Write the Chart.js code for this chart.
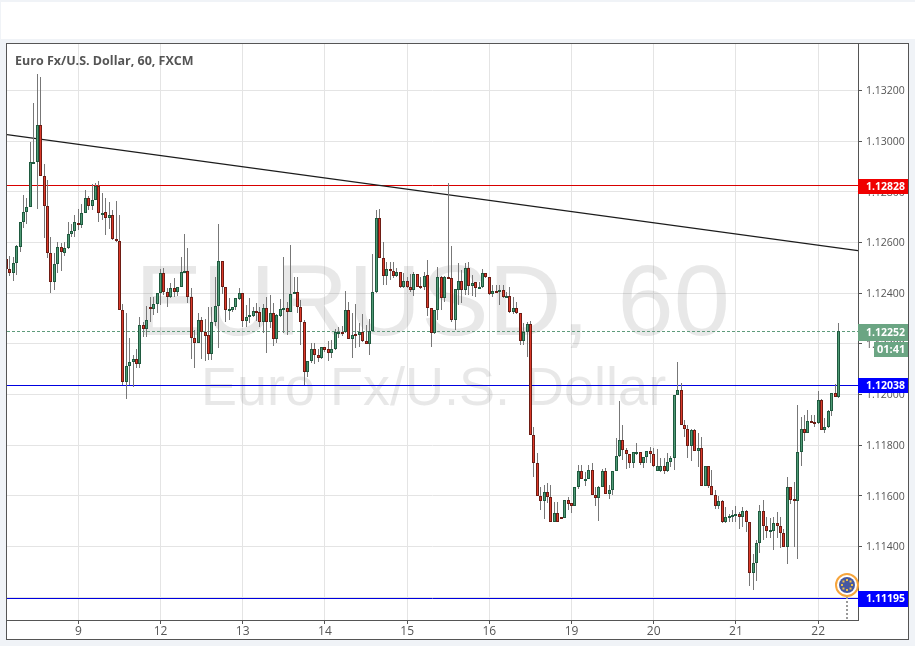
<!DOCTYPE html>
<html>
<head>
<meta charset="utf-8">
<title>EURUSD 60</title>
<script src="https://cdn.jsdelivr.net/npm/chart.js@4/dist/chart.umd.js"></script>
<style>
    html, body { margin: 0; padding: 0; background: #f0f3f7; width: 915px; height: 646px; overflow: hidden; }
    #topStrip { position: absolute; left: 1px; top: 2px; width: 914px; height: 37px; background: #fff; }
    #panel { position: absolute; left: 6px; top: 43px; width: 901px; height: 595px; background: #fff; border: 1px solid #555; }
    canvas { position: absolute; left: 0; top: 0; }
</style>
</head>
<body>
<div id="topStrip"></div>
<div id="panel"></div>
<canvas id="chart" width="915" height="646"></canvas>
<script>
// hourly candles
const opens = [
    1.12533,1.12494,1.12478,1.12521,1.12583,1.12679,1.12719,1.12742,1.12916,1.12916,1.13062,1.12863,
    1.12746,1.12557,1.12445,1.12516,1.12584,1.12559,1.12580,1.12632,1.12644,1.12678,1.12670,1.12715,
    1.12774,1.12746,1.12766,1.12825,1.12713,1.12719,1.12695,1.12707,1.12612,1.12607,1.12332,1.12050,
    1.12111,1.12129,1.12142,1.12122,1.12276,1.12257,1.12345,1.12339,1.12357,1.12399,1.12478,1.12406,
    1.12383,1.12419,1.12406,1.12423,1.12481,1.12486,1.12386,1.12225,1.12202,1.12293,1.12247,1.12233,
    1.12158,1.12285,1.12348,1.12526,1.12423,1.12332,1.12333,1.12344,1.12378,1.12399,1.12289,1.12304,
    1.12311,1.12328,1.12327,1.12287,1.12340,1.12287,1.12320,1.12221,1.12311,1.12336,1.12340,1.12324,
    1.12395,1.12403,1.12344,1.12285,1.12087,1.12131,1.12178,1.12154,1.12145,1.12186,1.12178,1.12165,
    1.12179,1.12244,1.12246,1.12245,1.12332,1.12218,1.12239,1.12235,1.12245,1.12212,1.12200,1.12252,
    1.12403,1.12695,1.12537,1.12469,1.12494,1.12489,1.12466,1.12482,1.12423,1.12447,1.12423,1.12411,
    1.12474,1.12427,1.12423,1.12470,1.12340,1.12241,1.12332,1.12462,1.12379,1.12462,1.12458,1.12295,
    1.12414,1.12447,1.12414,1.12498,1.12429,1.12443,1.12419,1.12423,1.12478,1.12462,1.12395,1.12407,
    1.12403,1.12411,1.12383,1.12387,1.12327,1.12340,1.12320,1.12212,1.12245,1.12277,1.11842,1.11728,
    1.11600,1.11578,1.11617,1.11594,1.11495,1.11531,1.11516,1.11514,1.11582,1.11570,1.11561,1.11633,
    1.11697,1.11664,1.11668,1.11701,1.11602,1.11590,1.11633,1.11697,1.11606,1.11622,1.11697,1.11756,
    1.11819,1.11779,1.11764,1.11728,1.11770,1.11772,1.11728,1.11752,1.11776,1.11764,1.11697,1.11697,
    1.11716,1.11697,1.11732,1.11748,1.12000,1.12016,1.11878,1.11862,1.11795,1.11858,1.11776,1.11787,
    1.11637,1.11716,1.11637,1.11602,1.11558,1.11578,1.11498,1.11514,1.11520,1.11522,1.11527,1.11518,
    1.11539,1.11495,1.11296,1.11333,1.11412,1.11539,1.11479,1.11458,1.11462,1.11491,1.11479,1.11452,
    1.11399,1.11633,1.11586,1.11578,1.11772,1.11862,1.11847,1.11895,1.11893,1.11886,1.11977,1.11858,
    1.11870,1.11933,1.12005,1.11991
];
const highs = [
    1.12537,1.12546,1.12544,1.12590,1.12679,1.12787,1.12774,1.12998,1.13149,1.13265,1.13252,1.12908,
    1.12846,1.12623,1.12559,1.12603,1.12599,1.12603,1.12679,1.12675,1.12708,1.12734,1.12751,1.12807,
    1.12783,1.12829,1.12836,1.12841,1.12794,1.12774,1.12758,1.12730,1.12763,1.12708,1.12359,1.12320,
    1.12225,1.12155,1.12178,1.12304,1.12287,1.12349,1.12386,1.12386,1.12399,1.12495,1.12498,1.12419,
    1.12439,1.12458,1.12423,1.12544,1.12633,1.12577,1.12419,1.12254,1.12320,1.12304,1.12300,1.12347,
    1.12347,1.12462,1.12673,1.12526,1.12423,1.12379,1.12347,1.12382,1.12419,1.12399,1.12353,1.12382,
    1.12344,1.12360,1.12347,1.12357,1.12386,1.12393,1.12360,1.12318,1.12377,1.12544,1.12366,1.12590,
    1.12462,1.12462,1.12373,1.12294,1.12131,1.12202,1.12204,1.12178,1.12186,1.12189,1.12212,1.12215,
    1.12260,1.12265,1.12270,1.12408,1.12366,1.12320,1.12356,1.12281,1.12316,1.12274,1.12300,1.12554,
    1.12728,1.12731,1.12603,1.12524,1.12524,1.12524,1.12498,1.12485,1.12478,1.12462,1.12475,1.12485,
    1.12474,1.12465,1.12485,1.12531,1.12340,1.12332,1.12504,1.12468,1.12468,1.12833,1.12586,1.12415,
    1.12519,1.12491,1.12518,1.12522,1.12471,1.12445,1.12445,1.12495,1.12481,1.12465,1.12432,1.12432,
    1.12432,1.12432,1.12406,1.12423,1.12386,1.12366,1.12320,1.12283,1.12287,1.12291,1.11870,1.11770,
    1.11636,1.11642,1.11649,1.11642,1.11577,1.11577,1.11516,1.11583,1.11596,1.11570,1.11633,1.11722,
    1.11722,1.11694,1.11722,1.11728,1.11633,1.11639,1.11704,1.11708,1.11643,1.11697,1.11827,1.11976,
    1.11880,1.11787,1.11765,1.11774,1.11807,1.11773,1.11754,1.11776,1.11794,1.11787,1.11785,1.11748,
    1.11748,1.11768,1.11757,1.12000,1.12127,1.12044,1.11899,1.11880,1.11865,1.11865,1.11847,1.11831,
    1.11719,1.11716,1.11702,1.11623,1.11599,1.11583,1.11557,1.11528,1.11544,1.11560,1.11537,1.11557,
    1.11544,1.11498,1.11370,1.11425,1.11564,1.11583,1.11518,1.11511,1.11518,1.11536,1.11518,1.11471,
    1.11673,1.11636,1.11653,1.11958,1.11912,1.11919,1.11939,1.11919,1.11919,1.12014,1.11981,1.11906,
    1.11939,1.12005,1.12041,1.12283
];
const lows = [
    1.12491,1.12467,1.12449,1.12471,1.12563,1.12658,1.12675,1.12742,1.12912,1.12734,1.12863,1.12619,
    1.12537,1.12401,1.12412,1.12478,1.12488,1.12546,1.12576,1.12623,1.12623,1.12649,1.12658,1.12715,
    1.12728,1.12728,1.12766,1.12682,1.12688,1.12629,1.12655,1.12609,1.12603,1.12332,1.12037,1.11984,
    1.12037,1.12028,1.12103,1.12103,1.12228,1.12228,1.12287,1.12314,1.12320,1.12353,1.12393,1.12347,
    1.12379,1.12386,1.12389,1.12423,1.12481,1.12360,1.12139,1.12103,1.12202,1.12141,1.12132,1.12136,
    1.12136,1.12272,1.12182,1.12397,1.12285,1.12294,1.12327,1.12333,1.12373,1.12268,1.12265,1.12281,
    1.12304,1.12289,1.12268,1.12244,1.12165,1.12261,1.12193,1.12202,1.12307,1.12241,1.12235,1.12324,
    1.12395,1.12320,1.12195,1.12037,1.12070,1.12125,1.12120,1.12130,1.12139,1.12169,1.12133,1.12143,
    1.12175,1.12222,1.12232,1.12241,1.12218,1.12143,1.12182,1.12186,1.12208,1.12200,1.12156,1.12252,
    1.12402,1.12537,1.12432,1.12432,1.12452,1.12458,1.12462,1.12419,1.12419,1.12419,1.12406,1.12389,
    1.12423,1.12415,1.12412,1.12311,1.12189,1.12239,1.12296,1.12333,1.12366,1.12458,1.12287,1.12254,
    1.12353,1.12360,1.12393,1.12393,1.12389,1.12386,1.12419,1.12422,1.12458,1.12393,1.12386,1.12399,
    1.12353,1.12379,1.12382,1.12320,1.12316,1.12318,1.12195,1.12195,1.12149,1.11842,1.11675,1.11600,
    1.11544,1.11507,1.11570,1.11495,1.11495,1.11495,1.11514,1.11514,1.11544,1.11533,1.11561,1.11628,
    1.11665,1.11639,1.11665,1.11602,1.11561,1.11502,1.11633,1.11606,1.11586,1.11603,1.11697,1.11754,
    1.11741,1.11704,1.11708,1.11708,1.11761,1.11722,1.11708,1.11728,1.11728,1.11715,1.11697,1.11695,
    1.11685,1.11695,1.11712,1.11702,1.12000,1.11878,1.11831,1.11751,1.11739,1.11776,1.11712,1.11637,
    1.11637,1.11629,1.11602,1.11550,1.11550,1.11494,1.11494,1.11495,1.11495,1.11498,1.11469,1.11478,
    1.11456,1.11245,1.11228,1.11265,1.11375,1.11425,1.11432,1.11432,1.11386,1.11432,1.11395,1.11399,
    1.11332,1.11568,1.11399,1.11352,1.11718,1.11818,1.11847,1.11891,1.11870,1.11883,1.11858,1.11849,
    1.11866,1.11915,1.11989,1.11985
];
const closes = [
    1.12494,1.12478,1.12521,1.12586,1.12679,1.12719,1.12742,1.12916,1.12918,1.13062,1.12863,1.12746,
    1.12557,1.12445,1.12517,1.12584,1.12561,1.12580,1.12632,1.12644,1.12679,1.12670,1.12715,1.12774,
    1.12746,1.12766,1.12825,1.12715,1.12717,1.12695,1.12707,1.12612,1.12607,1.12332,1.12050,1.12111,
    1.12129,1.12142,1.12122,1.12276,1.12257,1.12296,1.12339,1.12357,1.12399,1.12478,1.12406,1.12383,
    1.12419,1.12406,1.12423,1.12482,1.12486,1.12386,1.12225,1.12202,1.12293,1.12247,1.12232,1.12158,
    1.12285,1.12348,1.12526,1.12423,1.12332,1.12337,1.12344,1.12379,1.12399,1.12289,1.12306,1.12312,
    1.12328,1.12325,1.12287,1.12340,1.12287,1.12320,1.12221,1.12312,1.12336,1.12340,1.12324,1.12395,
    1.12403,1.12344,1.12285,1.12087,1.12131,1.12178,1.12154,1.12145,1.12186,1.12175,1.12165,1.12179,
    1.12246,1.12248,1.12240,1.12332,1.12218,1.12236,1.12235,1.12245,1.12212,1.12200,1.12252,1.12403,
    1.12695,1.12537,1.12469,1.12494,1.12489,1.12466,1.12482,1.12423,1.12447,1.12423,1.12411,1.12474,
    1.12426,1.12423,1.12469,1.12340,1.12241,1.12332,1.12462,1.12379,1.12462,1.12458,1.12295,1.12415,
    1.12447,1.12414,1.12498,1.12429,1.12441,1.12419,1.12423,1.12478,1.12462,1.12395,1.12407,1.12403,
    1.12411,1.12383,1.12387,1.12327,1.12340,1.12320,1.12212,1.12245,1.12277,1.11842,1.11728,1.11600,
    1.11578,1.11617,1.11594,1.11495,1.11531,1.11495,1.11514,1.11582,1.11567,1.11561,1.11633,1.11697,
    1.11665,1.11668,1.11701,1.11602,1.11590,1.11633,1.11697,1.11606,1.11622,1.11697,1.11756,1.11819,
    1.11779,1.11764,1.11728,1.11772,1.11773,1.11728,1.11752,1.11776,1.11764,1.11716,1.11716,1.11716,
    1.11697,1.11732,1.11748,1.12000,1.12016,1.11878,1.11862,1.11795,1.11858,1.11776,1.11787,1.11637,
    1.11716,1.11637,1.11602,1.11558,1.11578,1.11498,1.11515,1.11522,1.11524,1.11527,1.11518,1.11539,
    1.11495,1.11296,1.11333,1.11412,1.11539,1.11479,1.11460,1.11464,1.11491,1.11479,1.11452,1.11399,
    1.11633,1.11585,1.11578,1.11772,1.11862,1.11847,1.11894,1.11891,1.11885,1.11977,1.11858,1.11870,
    1.11933,1.12005,1.11991,1.12252
];

// axes
const priceTicks = [1.112, 1.114, 1.116, 1.118, 1.12, 1.122, 1.124, 1.126, 1.128, 1.13, 1.132];
const dayTickIndex = [21, 45, 69, 93, 117, 141, 165, 189, 213, 237];
const dayLabels = ['9', '12', '13', '14', '15', '16', '19', '20', '21', '22'];
const xMin = 0.175, xMax = 248.64;

// drawn lines and price tags
const trendLine = [1.13026, 1.12568];
const resistance = 1.12828;
const support = 1.12038;
const lowerSupport = 1.11195;
const lastPrice = 1.12252;

const font = '"Open Sans", sans-serif';

function flatLine(price, color, dash) {
    return {
        type: 'line',
        label: 'level',
        data: [{ x: xMin, y: price }, { x: xMax, y: price }],
        borderColor: color,
        borderWidth: 1,
        borderDash: dash || [],
        pointRadius: 0,
        order: 3
    };
}

function priceTag(ctx, yPos, height, text, color, left) {
    const top = Math.round(yPos - height / 2);
    ctx.fillStyle = color;
    ctx.fillRect(left, top, 908 - left, height);
    ctx.fillStyle = '#fff';
    ctx.font = 'bold 10.5px ' + font;
    ctx.textAlign = 'left';
    ctx.textBaseline = 'middle';
    ctx.fillText(text, left + 8, top + height / 2 + 0.5);
}

// keep candles and level lines on whole pixels, the way the original draws them
const snapMarks = {
    id: 'snapMarks',
    afterDatasetsUpdate(chart) {
        chart.data.datasets.forEach((ds, n) => {
            const elements = chart.getDatasetMeta(n).data;
            if (ds.type === 'bar') {
                elements.forEach(bar => {
                    bar.x = Math.floor(bar.x) + 0.5;
                    bar.y = Math.round(bar.y);
                    bar.base = Math.round(bar.base);
                    const minHeight = ds.label === 'body' ? 2 : 1;
                    if (bar.base - bar.y < minHeight) bar.base = bar.y + minHeight;
                });
            } else if (ds.label === 'level') {
                elements.forEach(point => { point.y = Math.round(point.y) + 0.5; });
            }
        });
    }
};

const watermark = {
    id: 'watermark',
    beforeDatasetsDraw(chart) {
        const ctx = chart.ctx;
        ctx.save();
        ctx.fillStyle = 'rgba(120, 120, 120, 0.17)';
        ctx.textAlign = 'left';
        ctx.textBaseline = 'alphabetic';
        ctx.font = '101px "Liberation Sans", sans-serif';
        ctx.fillText('EURUSD, 60', 135, 335);
        ctx.font = '54px "Liberation Sans", sans-serif';
        ctx.fillText('Euro Fx/U.S. Dollar', 201, 405);
        ctx.restore();
    }
};

const overlays = {
    id: 'overlays',
    afterDraw(chart) {
        const ctx = chart.ctx;
        const y = chart.scales.y;
        ctx.save();

        ctx.fillStyle = '#555';
        ctx.font = 'bold 12.5px ' + font;
        ctx.textAlign = 'left';
        ctx.textBaseline = 'alphabetic';
        ctx.fillText('Euro Fx/U.S. Dollar, 60, FXCM', 15, 65);

        priceTag(ctx, y.getPixelForValue(resistance) + 2, 15, resistance.toFixed(5), '#f00000', 858);
        priceTag(ctx, y.getPixelForValue(lastPrice) + 2, 17, lastPrice.toFixed(5), '#6ba583', 858);
        priceTag(ctx, y.getPixelForValue(support) + 1, 15, support.toFixed(5), '#0000ff', 858);
        priceTag(ctx, y.getPixelForValue(lowerSupport) + 1, 16, lowerSupport.toFixed(5), '#0000ff', 858);

        // bar countdown under the last price
        ctx.fillStyle = '#6ba583';
        ctx.fillRect(874, 342, 34, 15);
        ctx.fillStyle = '#fff';
        ctx.font = 'bold 11px ' + font;
        ctx.textBaseline = 'middle';
        ctx.fillText('01:41', 877, 350);

        // event marker at the bottom right
        ctx.strokeStyle = '#999';
        ctx.lineWidth = 2;
        ctx.setLineDash([2, 2]);
        ctx.beginPath();
        ctx.moveTo(847, 597);
        ctx.lineTo(847, 620);
        ctx.stroke();
        ctx.setLineDash([]);
        ctx.beginPath();
        ctx.arc(847, 585, 11, 0, Math.PI * 2);
        ctx.fillStyle = '#fff';
        ctx.fill();
        ctx.strokeStyle = '#f6a53c';
        ctx.lineWidth = 2;
        ctx.stroke();
        ctx.beginPath();
        ctx.arc(847, 585, 8, 0, Math.PI * 2);
        ctx.fillStyle = '#46589f';
        ctx.fill();
        ctx.fillStyle = '#eec04a';
        for (let i = 0; i < 8; i++) {
            const a = i * Math.PI / 4;
            ctx.fillRect(846 + Math.cos(a) * 5, 584 + Math.sin(a) * 5, 2, 2);
        }
        ctx.restore();
    }
};

new Chart(document.getElementById('chart').getContext('2d'), {
    data: {
        datasets: [
            {
                type: 'bar',
                label: 'body',
                data: opens.map((o, i) => ({ x: i, y: [Math.min(o, closes[i]), Math.max(o, closes[i])] })),
                backgroundColor: opens.map((o, i) => closes[i] >= o ? '#4f9a75' : '#dc3a2a'),
                borderColor: opens.map((o, i) => closes[i] >= o ? '#1f5a3f' : '#6e1c14'),
                borderWidth: 1,
                borderSkipped: false,
                inflateAmount: 0,
                barThickness: 3,
                grouped: false,
                order: 1
            },
            {
                type: 'bar',
                label: 'wick',
                data: opens.map((o, i) => ({ x: i, y: [lows[i], highs[i]] })),
                backgroundColor: '#777',
                inflateAmount: 0,
                barThickness: 1,
                grouped: false,
                order: 2
            },
            {
                type: 'line',
                data: [{ x: xMin, y: trendLine[0] }, { x: xMax, y: trendLine[1] }],
                borderColor: '#1c1c1c',
                borderWidth: 1.2,
                pointRadius: 0,
                order: 3
            },
            flatLine(resistance, '#d80000'),
            flatLine(support, '#0000e0'),
            flatLine(lowerSupport, '#0000e0'),
            flatLine(lastPrice, '#5f9b7b', [3, 2])
        ]
    },
    options: {
        responsive: false,
        animation: false,
        layout: { padding: { left: 7, top: 44, right: 7, bottom: 7 } },
        plugins: { legend: { display: false }, tooltip: { enabled: false } },
        scales: {
            x: {
                type: 'linear',
                min: xMin,
                max: xMax,
                offset: false,
                afterBuildTicks: scale => { scale.ticks = dayTickIndex.map(v => ({ value: v })); },
                afterFit: scale => { scale.height = 19; },
                grid: { offset: false, color: '#e4e4e4', tickColor: '#555', tickLength: 4 },
                border: { color: '#555' },
                ticks: {
                    autoSkip: false,
                    maxRotation: 0,
                    padding: 0,
                    color: '#555',
                    font: { family: '"Open Sans"', size: 12 },
                    callback: value => dayLabels[dayTickIndex.indexOf(value)]
                }
            },
            y: {
                type: 'linear',
                position: 'right',
                min: 1.111099,
                max: 1.133836,
                afterBuildTicks: scale => { scale.ticks = priceTicks.map(v => ({ value: v })); },
                afterFit: scale => { scale.width = 50; },
                grid: { color: '#e4e4e4', tickColor: '#555', tickLength: 4 },
                border: { color: '#555' },
                ticks: {
                    autoSkip: false,
                    padding: 4,
                    labelOffset: 1,
                    color: '#555',
                    font: { family: '"Open Sans"', size: 10.5 },
                    callback: value => value.toFixed(5)
                }
            }
        }
    },
    plugins: [snapMarks, watermark, overlays]
});
</script>
</body>
</html>
